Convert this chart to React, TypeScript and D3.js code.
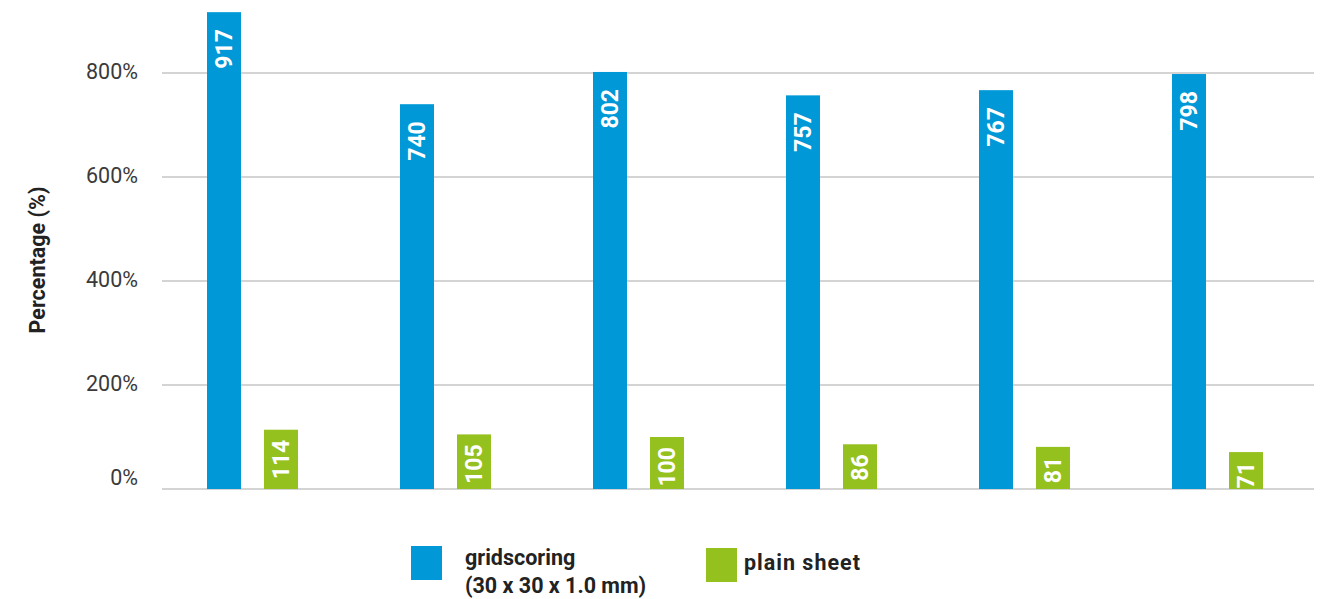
import React from "react";
import * as d3 from "d3";

const categories = ["1", "2", "3", "4", "5", "6"];
const seriesNames = ["gridscoring", "plain sheet"];
const gridscoring = [917, 740, 802, 757, 767, 798];
const plainSheet = [114, 105, 100, 86, 81, 71];
const yTicks = [0, 200, 400, 600, 800];
const colors = ["#0098d6", "#95c11f"];
const labelOffsets = [17, 10];

const W = 1329;
const H = 599;
const FONT = "Roboto, 'DejaVu Sans', sans-serif";

export default function App() {
  const y = d3.scaleLinear().domain([0, 800]).range([489, 73]);
  const x0 = d3.scaleBand<string>().domain(categories).range([158, 158 + 193 * 6]).padding(0);
  const x1 = d3
    .scaleBand<string>()
    .domain(seriesNames)
    .range([49, 140])
    .paddingInner(23 / 57)
    .paddingOuter(0);
  const values = [gridscoring, plainSheet];
  const gridLeft = 162;
  const gridRight = 1314;

  return (
    <svg
      width={W}
      height={H}
      style={{ position: "absolute", left: 0, top: 0, background: "#fff" }}
      fontFamily={FONT}
    >
      {yTicks.map((t) => (
        <g key={t}>
          <line x1={gridLeft} x2={gridRight} y1={y(t)} y2={y(t)} stroke="#c6c6c6" strokeWidth={1.3} />
          <text
            x={138}
            y={y(t) - (t === 0 ? 12 : 2)}
            textAnchor="end"
            dominantBaseline="central"
            fontSize={21.5}
            fill="#3a3a3a"
          >
            {t}%
          </text>
        </g>
      ))}
      <text
        transform={`translate(37,260) rotate(-90)`}
        textAnchor="middle"
        dominantBaseline="central"
        fontSize={21.5}
        fontWeight="bold"
        fill="#222"
      >
        Percentage (%)
      </text>
      {categories.map((c, i) => (
        <g key={c} transform={`translate(${x0(c)},0)`}>
          {seriesNames.map((s, si) => {
            const v = values[si][i];
            const bx = x1(s)!;
            const bw = x1.bandwidth();
            return (
              <g key={s}>
                <rect x={bx} y={y(v)} width={bw} height={y(0) - y(v)} fill={colors[si]} />
                <text
                  transform={`translate(${bx + bw / 2},${y(v) + labelOffsets[si]}) rotate(-90)`}
                  textAnchor="end"
                  dominantBaseline="central"
                  fontSize={23}
                  fontWeight="bold"
                  fill="#fff"
                >
                  {v}
                </text>
              </g>
            );
          })}
        </g>
      ))}
      <g fontSize={21.5} fontWeight="bold" fill="#222">
        <rect x={411} y={546} width={31} height={34} fill={colors[0]} />
        <text x={465} y={565}>
          gridscoring
        </text>
        <text x={465} y={593}>
          (30 x 30 x 1.0 mm)
        </text>
        <rect x={706} y={548} width={31} height={34} fill={colors[1]} />
        <text x={744} y={570} letterSpacing={1}>
          plain sheet
        </text>
      </g>
    </svg>
  );
}
